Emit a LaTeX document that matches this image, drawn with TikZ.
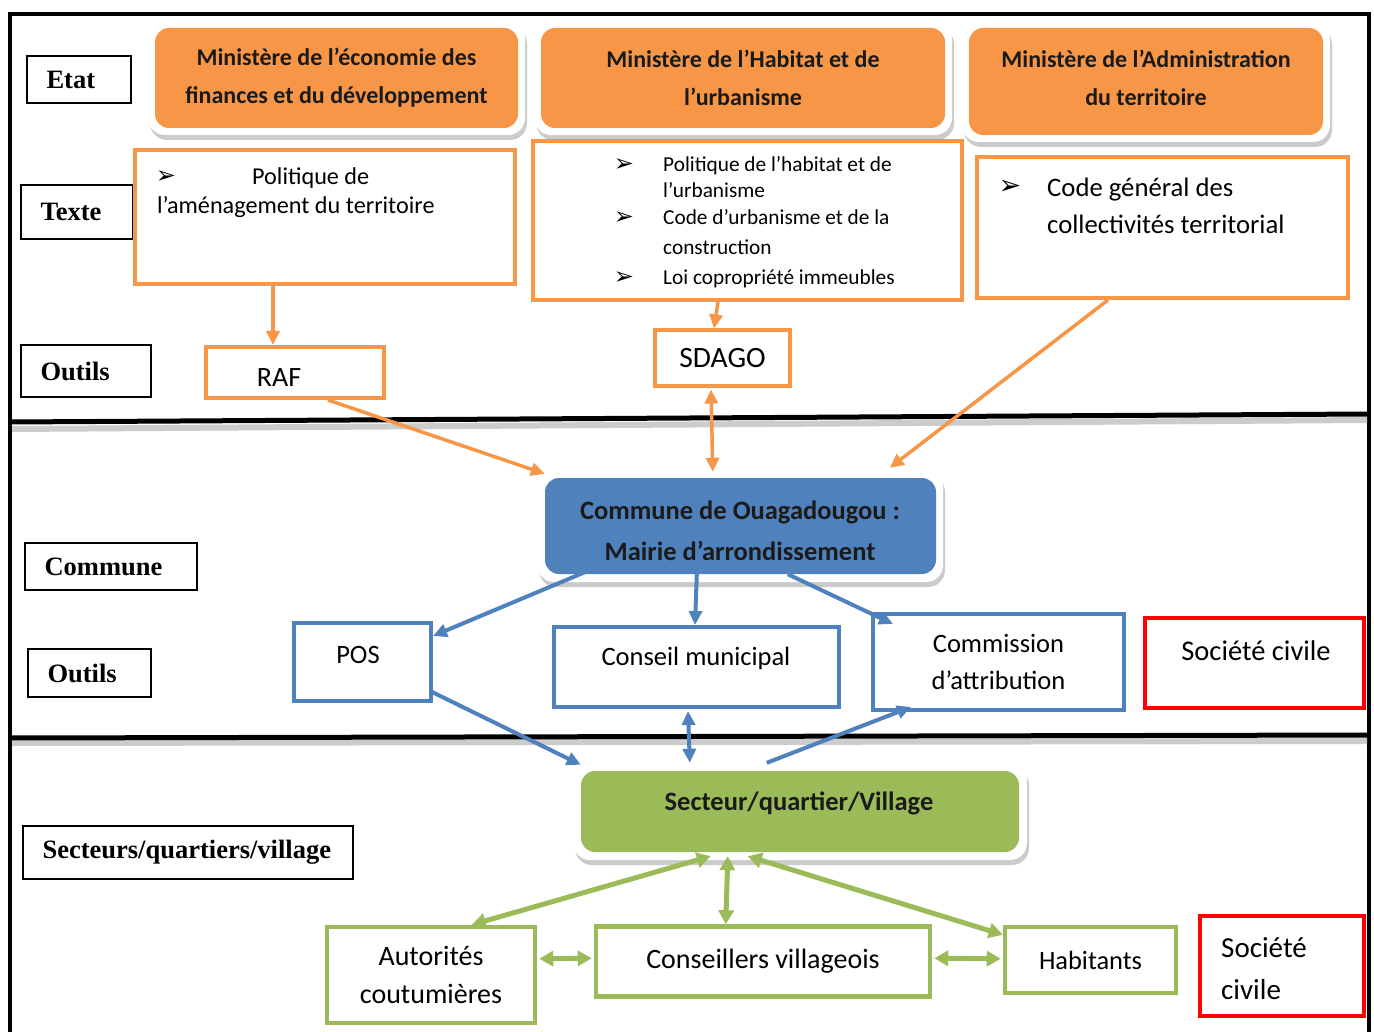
\documentclass[tikz,border=0pt]{standalone}
\usepackage{fontspec}
\setmainfont{Carlito}
\newfontfamily\tnr{Liberation Serif}
\newfontfamily\dejavu{DejaVu Sans}
\usetikzlibrary{arrows.meta,shadows,calc}
\definecolor{orA}{HTML}{F79646}
\definecolor{blA}{HTML}{4F81BD}
\definecolor{grA}{HTML}{9BBB59}
\definecolor{rdA}{HTML}{FF0000}
\definecolor{txA}{HTML}{1A1A1A}
\tikzset{
  labbox/.style={draw=black, line width=1.3pt, fill=white, inner sep=0pt},
  labtxt/.style={inner sep=0pt, font=\tnr\bfseries\fontsize{26.5}{30}\selectfont},
  wrapbox/.style={fill=white, rounded corners=17pt, inner sep=0pt,
     drop shadow={shadow xshift=2pt, shadow yshift=-5pt, fill=black!45, opacity=0.45}},
  fillbox/.style={rounded corners=14pt, inner sep=0pt},
  filltxt/.style={inner sep=0pt, align=center, text=txA},
  obox/.style={draw=orA, line width=4pt, fill=white, inner sep=0pt},
  bbox/.style={draw=blA, line width=4pt, fill=white, inner sep=0pt, align=center,
     font=\fontsize{26.5}{37}\selectfont},
  gbox/.style={draw=grA, line width=4.5pt, fill=white, inner sep=0pt, align=center,
     font=\fontsize{28}{38}\selectfont},
  rbox/.style={draw=rdA, line width=4pt, fill=white, inner sep=0pt},
  txt/.style={inner sep=0pt, align=left},
  bul/.style={inner sep=0pt, font=\dejavu\fontsize{24}{26}\selectfont},
  oarr/.style={draw=orA, line width=3.5pt, -{Triangle[length=14pt,width=13pt]}},
  oarrd/.style={draw=orA, line width=3.5pt, {Triangle[length=14pt,width=13pt]}-{Triangle[length=14pt,width=13pt]}},
  barr/.style={draw=blA, line width=4pt, -{Triangle[length=14pt,width=13pt]}},
  barrd/.style={draw=blA, line width=4pt, {Triangle[length=14pt,width=13pt]}-{Triangle[length=14pt,width=13pt]}},
  garrd/.style={draw=grA, line width=5pt, {Triangle[length=14pt,width=15pt]}-{Triangle[length=14pt,width=15pt]}},
}
\begin{document}
\begin{tikzpicture}[x=1pt,y=-1pt]
\useasboundingbox (0,0) rectangle (1374,1032);
\fill[white] (0,0) rectangle (1374,1032);

% frame and separators
\draw[line width=4pt] (10,1032) -- (10,14) -- (1369,14) -- (1369,1032);
\draw[line width=6pt, black!20] (12,429) -- (1367,420);
\draw[line width=5pt] (10,422) -- (1369,414);
\draw[line width=6pt, black!20] (12,743) -- (1367,741);
\draw[line width=5pt] (10,738) -- (1369,735);

% left labels
\node[labbox, minimum width=104, minimum height=47] (lEtat) at (79,79.5) {};
\node[labtxt, anchor=west] (tEtat) at ([xshift=20pt]lEtat.west) {Etat};
\node[labbox, minimum width=112, minimum height=54] (lTexte) at (77,212) {};
\node[labtxt, anchor=west] (tTexte) at ([xshift=20pt]lTexte.west) {Texte};
\node[labbox, minimum width=130, minimum height=52] (lOut1) at (86,371) {};
\node[labtxt, anchor=west] (tOut1) at ([xshift=20pt]lOut1.west) {Outils};
\node[labbox, minimum width=172, minimum height=47] (lCom) at (111,566.5) {};
\node[labtxt, anchor=west] (tCom) at ([xshift=20pt]lCom.west) {Commune};
\node[labbox, minimum width=123, minimum height=48] (lOut2) at (89.5,673) {};
\node[labtxt, anchor=west] (tOut2) at ([xshift=20pt]lOut2.west) {Outils};
\node[labbox, minimum width=330, minimum height=53] (lSec) at (188,852.5) {};
\node[labtxt, anchor=west] (tSec) at ([xshift=20pt]lSec.west) {Secteurs/quartiers/village};

% ministries
\node[wrapbox, minimum width=377, minimum height=113] (m1w) at (336.5,78.5) {};
\node[fillbox, fill=orA, minimum width=363, minimum height=100] (m1) at (336.5,78) {};
\node[filltxt, font=\bfseries\fontsize{24}{38}\selectfont] (m1T) at (336.5,78) {Ministère de l’économie des\\finances et du développement};
\node[wrapbox, minimum width=418, minimum height=113] (m2w) at (743,78.5) {};
\node[fillbox, fill=orA, minimum width=404, minimum height=100] (m2) at (743,78) {};
\node[filltxt, font=\bfseries\fontsize{24}{38}\selectfont] (m2T) at (743,78) {Ministère de l’Habitat et de\\l’urbanisme};
\node[wrapbox, minimum width=368, minimum height=120] (m3w) at (1146,82) {};
\node[fillbox, fill=orA, minimum width=354, minimum height=107] (m3) at (1146,81.5) {};
\node[filltxt, font=\bfseries\fontsize{24}{38}\selectfont] (m3T) at (1146,78) {Ministère de l’Administration\\du territoire};

% text boxes
\node[obox, minimum width=380, minimum height=134] (t1) at (325,217) {};
\node[bul] (b11) at (166,177) {➢};
\node[txt, anchor=base west, font=\fontsize{24.2}{26}\selectfont] (t1a) at (252,185) {Politique de};
\node[txt, anchor=base west, font=\fontsize{24.2}{26}\selectfont] (t1b) at (157,214) {l’aménagement du territoire};

\node[obox, minimum width=429, minimum height=159] (t2) at (747.5,220.5) {};
\node[bul] (b21) at (624,165) {➢};
\node[bul] (b22) at (624,218) {➢};
\node[bul] (b23) at (624,278) {➢};
\node[txt, anchor=base west, font=\fontsize{21.3}{22}\selectfont] (t2a) at (663,172) {Politique de l’habitat et de};
\node[txt, anchor=base west, font=\fontsize{21.3}{22}\selectfont] (t2b) at (663,198) {l’urbanisme};
\node[txt, anchor=base west, font=\fontsize{21.3}{22}\selectfont] (t2c) at (663,225) {Code d’urbanisme et de la};
\node[txt, anchor=base west, font=\fontsize{21.3}{22}\selectfont] (t2d) at (663,255) {construction};
\node[txt, anchor=base west, font=\fontsize{21.3}{22}\selectfont] (t2e) at (663,285) {Loi copropriété immeubles};

\node[obox, minimum width=371, minimum height=141] (t3) at (1162.5,227.5) {};
\node[bul, font=\dejavu\fontsize{27}{28}\selectfont] (b31) at (1010,187) {➢};
\node[txt, anchor=base west, font=\fontsize{26.7}{28}\selectfont] (t3a) at (1047,197) {Code général des};
\node[txt, anchor=base west, font=\fontsize{26.7}{28}\selectfont] (t3b) at (1047,234) {collectivités territorial};

% outils (etat)
\node[obox, minimum width=178, minimum height=51] (raf) at (295,372.5) {};
\node[inner sep=0pt, font=\fontsize{28}{30}\selectfont] (rafT) at (279,378) {RAF};
\node[obox, minimum width=135, minimum height=55, font=\fontsize{29.5}{30}\selectfont] (sdago) at (722.5,358) {SDAGO};

% commune
\node[wrapbox, minimum width=406, minimum height=112] (comw) at (740,526) {};
\node[fillbox, fill=blA, minimum width=391, minimum height=96] (com) at (740.5,526) {};
\node[filltxt, font=\bfseries\fontsize{26.5}{41}\selectfont] (comT) at (740,531) {Commune de Ouagadougou :\\Mairie d’arrondissement};

% commune outils
\node[bbox, minimum width=137, minimum height=78] (pos) at (362.5,662) {};
\node[inner sep=0pt, font=\fontsize{26.5}{28}\selectfont] (posT) at (358,655) {POS};
\node[bbox, minimum width=285, minimum height=80] (cons) at (696.5,667) {};
\node[inner sep=0pt, font=\fontsize{26.5}{28}\selectfont] (consT) at (696,658) {Conseil municipal};
\node[bbox, minimum width=251, minimum height=96] (comm) at (998.5,662) {Commission\\d’attribution};
\node[rbox, minimum width=219, minimum height=90] (sc1) at (1254.5,663) {};
\node[inner sep=0pt, font=\fontsize{28.5}{30}\selectfont] (sc1T) at (1256,651) {Société civile};

% secteur
\node[wrapbox, minimum width=454, minimum height=97] (sectw) at (800,811.5) {};
\node[fillbox, fill=grA, minimum width=438, minimum height=81] (sect) at (800,811.5) {};
\node[filltxt, font=\bfseries\fontsize{26.5}{28}\selectfont] (sectT) at (799,803) {Secteur/quartier/Village};

\node[gbox, minimum width=208, minimum height=96] (aut) at (431,975) {Autorités\\coutumières};
\node[gbox, minimum width=334, minimum height=70] (consv) at (763,961.5) {Conseillers villageois};
\node[gbox, minimum width=171, minimum height=66, font=\fontsize{26.4}{30}\selectfont] (hab) at (1090.5,960) {Habitants};
\node[rbox, minimum width=164, minimum height=100] (sc2) at (1282,966) {};
\node[txt, anchor=west, font=\fontsize{29}{42}\selectfont] (sc2T) at (1221,969) {Société\\civile};

% orange arrows
\draw[oarr] ($(t1.south west)+(140,0)$) -- ($(raf.north west)+(69,0)$);
\draw[oarr] ($(t2.south west)+(187,0)$) -- ($(sdago.north west)+(61,0)$);
\draw[oarr] ($(raf.south west)+(124,0)$) -- ($(comw.north west)+(8,4)$);
\draw[oarrd] ($(sdago.south west)+(58,2)$) -- ($(comw.north west)+(176,2)$);
\draw[oarr] ($(t3.south west)+(133,0)$) -- ($(comw.north west)+(353,-2)$);

% blue arrows
\draw[barr] ($(com.south west)+(40,-2)$) -- ($(pos.north east)+(0,15)$);
\draw[barr] ($(com.south west)+(152,0)$) -- ($(cons.north west)+(143,0)$);
\draw[barr] ($(com.south west)+(243,0)$) -- ($(comm.north west)+(22,12)$);
\draw[barr] ($(pos.south east)+(-3,-12)$) -- ($(sectw.north west)+(8,2)$);
\draw[barrd] ($(cons.south west)+(136,2)$) -- ($(sectw.north west)+(117,0)$);
\draw[barr] ($(sectw.north west)+(194,0)$) -- ($(comm.south west)+(40,-5)$);

% green arrows
\draw[garrd] ($(sectw.south west)+(138,-4)$) -- ($(aut.north west)+(147,0)$);
\draw[garrd] ($(sectw.south west)+(155,-4)$) -- ($(consv.north west)+(132,0)$);
\draw[garrd] ($(sectw.south west)+(175,-4)$) -- ($(hab.north west)+(0,10)$);
\draw[garrd] ($(aut.north east)+(2,34)$) -- ($(consv.north west)+(-2,34)$);
\draw[garrd] ($(consv.north east)+(2,34)$) -- ($(hab.north west)+(-2,34)$);
\end{tikzpicture}
\end{document}
